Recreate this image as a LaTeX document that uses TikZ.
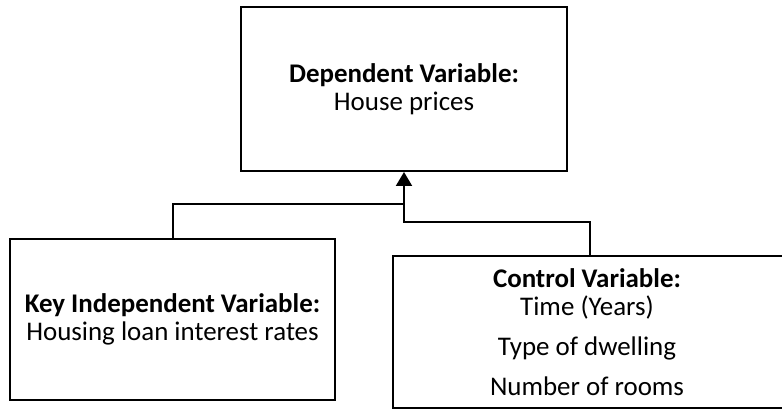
\documentclass[tikz,border=0pt]{standalone}
\usepackage{fontspec}
\setmainfont{Carlito}
\usetikzlibrary{arrows.meta}
\tikzset{
  box/.style={draw=black, line width=1.5pt, rectangle, inner sep=0pt, align=center,
    font=\fontsize{20.2pt}{21pt}\selectfont},
  txt/.style={inner sep=0pt, align=center, font=\fontsize{20.2pt}{21pt}\selectfont},
  link/.style={draw=black, line width=1.5pt},
  arrowlink/.style={link, -{Triangle[width=12pt,length=10.5pt]}}
}
\begin{document}
\begin{tikzpicture}[x=0.75pt, y=-0.75pt]
\useasboundingbox (0,0) rectangle (782,409);
\clip (0,0) rectangle (782,409);
\node[box, minimum width=244.5pt, minimum height=123pt] (dep) at (404,89)
  {\textbf{Dependent Variable:}\\House prices};
\node[box, minimum width=243.75pt, minimum height=120.75pt] (kiv) at (172.5,319.5)
  {\textbf{Key Independent Variable:}\\Housing loan interest rates};
\node[box, minimum width=293.25pt, minimum height=114pt] (cv) at (588.5,332) {};
\node[txt, anchor=north] (cvt) at (587,268)
  {\textbf{Control Variable:}\\Time (Years)\\[9pt]Type of dwelling\\[9pt]Number of rooms};
\coordinate (jl) at (404,204);
\coordinate (jr) at (404,222);
\draw[link] (kiv.north) |- (jl);
\draw[arrowlink] ([xshift=1.125pt]cv.north) |- (jr) -- (dep.south);
\end{tikzpicture}
\end{document}
